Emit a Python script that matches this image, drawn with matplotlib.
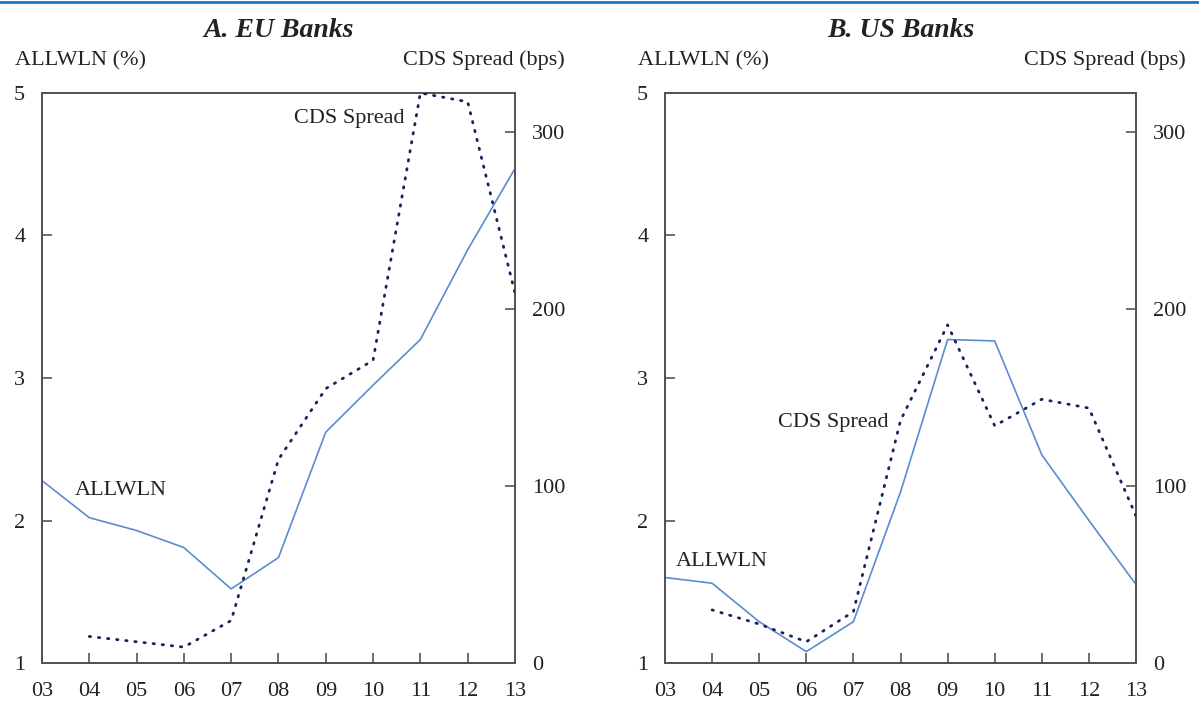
import matplotlib.pyplot as plt
import numpy as np
from matplotlib.lines import Line2D

plt.rcParams['font.family'] = ['Liberation Serif', 'DejaVu Serif']

years = list(range(2003, 2014))
year_labels = ["03", "04", "05", "06", "07", "08", "09", "10", "11", "12", "13"]

# EU banks
eu_allwln = [2.28, 2.02, 1.93, 1.81, 1.52, 1.74, 2.62, 2.95, 3.27, 3.90, 4.47]
eu_cds_years = list(range(2004, 2014))
eu_cds = [15, 12, 9, 24, 115, 155, 171, 322, 317, 209]

# US banks
us_allwln = [1.60, 1.56, 1.29, 1.08, 1.29, 2.20, 3.27, 3.26, 2.46, 2.00, 1.55]
us_cds_years = list(range(2004, 2014))
us_cds = [30, 22, 12, 29, 137, 191, 134, 149, 144, 83]

line_blue = "#5b8bd0"
dot_navy = "#1c1f5c"
spine_col = "#555555"


def panel(ax, allwln, cds_x, cds, title, ann):
    ax2 = ax.twinx()
    ax.plot(years, allwln, color=line_blue, lw=1.2, zorder=3)
    ax2.plot(cds_x, cds, color=dot_navy, lw=2.0, ls=(0, (0.5, 2.8)),
             dash_capstyle="round", zorder=3)
    ax.set_xlim(2003, 2013)
    ax.set_ylim(1, 5)
    ax2.set_ylim(0, 322)
    ax.set_xticks(years)
    ax.set_xticklabels(year_labels)
    ax.set_yticks([1, 2, 3, 4, 5])
    ax2.set_yticks([0, 100, 200, 300])
    for a in (ax, ax2):
        for s in a.spines.values():
            s.set_color(spine_col)
            s.set_linewidth(1.4)
        a.tick_params(direction="in", length=7, width=1.2, color=spine_col,
                      labelsize=16, colors="#222222")
    ax.tick_params(axis="x", pad=14)
    ax.tick_params(axis="y", pad=12)
    ax2.tick_params(axis="y", pad=12)
    ax.set_title(title, fontsize=20, fontweight="bold", style="italic",
                 color="#222222", pad=40)
    ax.text(-0.058, 1.057, "ALLWLN (%)", transform=ax.transAxes, fontsize=16,
            ha="left", va="center", color="#222222")
    ax.text(1.105, 1.057, "CDS Spread (bps)", transform=ax.transAxes,
            fontsize=16, ha="right", va="center", color="#222222")
    for txt, x, y, ha in ann:
        ax.text(x, y, txt, fontsize=16, ha=ha, va="center", color="#222222")
    return ax2


fig = plt.figure(figsize=(11.99, 7.07), dpi=100)
axA = fig.add_axes([0.035, 0.0622, 0.3945, 0.8063])
axB = fig.add_axes([0.5546, 0.0622, 0.3929, 0.8063])

panel(axA, eu_allwln, eu_cds_years, eu_cds, "A. EU Banks",
      [("CDS Spread", 2010.67, 4.82, "right"), ("ALLWLN", 2003.7, 2.21, "left")])
panel(axB, us_allwln, us_cds_years, us_cds, "B. US Banks",
      [("CDS Spread", 2005.4, 2.69, "left"), ("ALLWLN", 2003.23, 1.71, "left")])

fig.add_artist(Line2D([0, 1], [0.997, 0.997], transform=fig.transFigure,
                      color="#1f73c0", lw=2))

fig.savefig("out.png", dpi=100)
